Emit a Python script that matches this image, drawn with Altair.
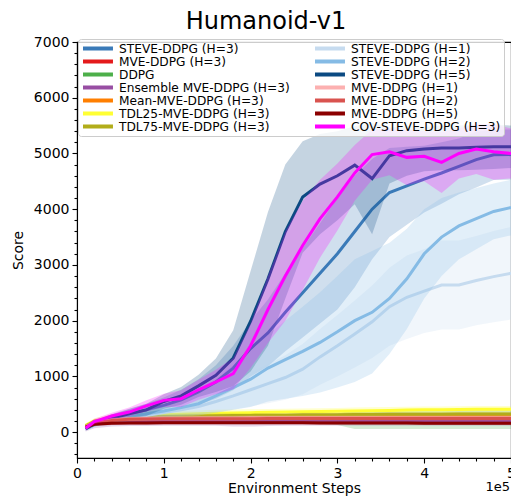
import altair as alt
import pandas as pd

# Environment steps
STEPS = [10000, 20000, 40000, 60000, 80000, 100000, 120000, 140000, 160000, 180000,
         200000, 220000, 240000, 260000, 280000, 300000, 320000, 340000, 360000, 380000,
         400000, 420000, 440000, 460000, 480000, 500000]

SERIES = [
    "STEVE-DDPG (H=3)", "MVE-DDPG (H=3)", "DDPG", "Ensemble MVE-DDPG (H=3)",
    "Mean-MVE-DDPG (H=3)", "TDL25-MVE-DDPG (H=3)", "TDL75-MVE-DDPG (H=3)",
    "STEVE-DDPG (H=1)", "STEVE-DDPG (H=2)", "STEVE-DDPG (H=5)",
    "MVE-DDPG (H=1)", "MVE-DDPG (H=2)", "MVE-DDPG (H=5)", "COV-STEVE-DDPG (H=3)",
]
COLORS = [
    "#3a7ab8", "#e41a1c", "#4daf4a", "#984ea3", "#ff7f00", "#ffff33", "#b2ad1a",
    "#c6dbef", "#85bbe5", "#0b4a82", "#fcb0b0", "#d9534f", "#8b0000", "#ff00ff",
]

steve3_mean = [60, 150, 240, 320, 400, 480, 580, 720, 900, 1150, 1500, 1780, 2150, 2500, 2850, 3200,
               3600, 4000, 4300, 4420, 4540, 4650, 4770, 4890, 4975, 4980]
steve3_std = [30, 50, 70, 90, 110, 140, 180, 230, 300, 400, 500, 600, 700, 800, 900, 1000,
              1000, 900, 800, 700, 600, 550, 500, 500, 450, 450]

mve3_mean = [80, 170, 200, 210, 215, 215, 220, 220, 220, 215, 220, 220, 220, 215, 220, 220,
             220, 220, 215, 220, 220, 220, 215, 220, 220, 220]
mve3_std = [30] + [40] * 25

ddpg_mean = [90, 170, 210, 220, 225, 225, 230, 230, 230, 230, 225, 230, 230, 230, 230, 230,
             225, 225, 225, 225, 225, 225, 225, 225, 225, 225]
ddpg_std = [40, 50, 60, 60, 60, 60, 60, 60, 60, 60, 60, 60, 60, 70, 80, 100,
            170, 170, 170, 170, 170, 170, 170, 170, 170, 170]

ens_mean = [70, 150, 180, 190, 190, 195, 195, 195, 195, 190, 190, 190, 195, 195, 195, 195,
            195, 195, 195, 195, 195, 195, 195, 195, 195, 195]
ens_std = [60, 80, 80, 80, 80, 80, 80, 80, 80, 90, 90, 80, 80, 80, 80, 80,
           80, 80, 80, 80, 80, 80, 80, 80, 80, 80]

mean_mean = [100, 180, 230, 250, 260, 265, 270, 275, 275, 280, 280, 280, 285, 285, 285, 290,
             290, 290, 290, 290, 290, 290, 290, 290, 290, 290]
mean_std = [30] + [40] * 25

tdl25_mean = [120, 200, 260, 290, 300, 310, 320, 330, 340, 345, 350, 355, 360, 365, 370, 375,
              380, 385, 390, 395, 400, 400, 405, 410, 410, 410]
tdl25_std = [40, 50, 60, 60, 60, 60, 60, 60, 60, 60, 60, 60, 60, 60, 60, 60,
             60, 60, 60, 60, 60, 60, 60, 60, 60, 60]

tdl75_mean = [110, 190, 240, 260, 270, 280, 285, 290, 295, 300, 300, 305, 305, 310, 310, 310,
              315, 315, 320, 320, 320, 320, 325, 325, 325, 325]
tdl75_std = [30] + [40] * 25

steve1_mean = [60, 130, 200, 260, 300, 350, 400, 460, 550, 650, 760, 870, 980, 1130, 1350, 1550,
               1760, 1980, 2250, 2420, 2530, 2640, 2640, 2720, 2790, 2850]
steve1_std = [30, 40, 50, 70, 90, 110, 130, 160, 200, 250, 300, 350, 400, 450, 500, 550,
              600, 650, 700, 750, 750, 800, 800, 800, 820, 830]

steve2_mean = [60, 140, 220, 280, 330, 380, 440, 510, 650, 800, 950, 1150, 1300, 1450, 1610, 1800,
               2000, 2150, 2400, 2750, 3200, 3500, 3700, 3830, 3960, 4030]
steve2_std = [30, 40, 60, 80, 100, 120, 150, 200, 300, 400, 500, 600, 700, 800, 900, 1000,
              1100, 1100, 1000, 900, 800, 700, 600, 550, 500, 500]

steve5_mean = [60, 150, 250, 330, 400, 550, 650, 830, 1020, 1330, 1990, 2750, 3600, 4220, 4450, 4600,
               4790, 4550, 4960, 5050, 5080, 5100, 5100, 5110, 5120, 5120]
steve5_std = [30, 50, 70, 90, 110, 130, 160, 200, 300, 500, 900, 1200, 1200, 1000, 900, 800,
              700, 1000, 500, 450, 400, 400, 400, 400, 400, 380]

mve1_mean = [100, 170, 220, 240, 245, 250, 250, 255, 255, 255, 260, 260, 260, 260, 260, 260,
             260, 260, 260, 260, 260, 260, 260, 260, 260, 260]
mve1_std = [30] + [40] * 25

mve2_mean = [90, 165, 210, 230, 235, 240, 240, 240, 240, 240, 240, 245, 245, 245, 245, 245,
             245, 245, 245, 245, 245, 245, 245, 245, 245, 245]
mve2_std = [30] + [40] * 25

mve5_mean = [90, 140, 160, 165, 165, 170, 170, 170, 170, 170, 170, 170, 170, 170, 165, 165,
             165, 165, 165, 165, 160, 160, 160, 160, 160, 160]
mve5_std = [30] * 26

cov_mean = [70, 190, 290, 360, 470, 570, 600, 760, 900, 1050, 1550, 2200, 2800, 3350, 3830, 4220,
            4650, 4980, 5030, 4930, 4950, 4840, 5000, 5080, 5030, 5000]
cov_std = [40, 50, 60, 80, 100, 120, 150, 180, 220, 280, 400, 600, 800, 800, 700, 600,
           500, 450, 420, 500, 450, 550, 450, 450, 500, 450]

MEANS = [steve3_mean, mve3_mean, ddpg_mean, ens_mean, mean_mean, tdl25_mean, tdl75_mean,
         steve1_mean, steve2_mean, steve5_mean, mve1_mean, mve2_mean, mve5_mean, cov_mean]
STDS = [steve3_std, mve3_std, ddpg_std, ens_std, mean_std, tdl25_std, tdl75_std,
        steve1_std, steve2_std, steve5_std, mve1_std, mve2_std, mve5_std, cov_std]

rows = []
for name, m, s in zip(SERIES, MEANS, STDS):
    for x, mv, sv in zip(STEPS, m, s):
        rows.append({"series": name, "step": x, "score": mv, "lo": mv - sv, "hi": mv + sv})
df = pd.DataFrame(rows)

W, H = 434, 416
xticks = list(range(0, 500001, 20000))
yticks = list(range(-400, 7001, 200))

xscale = alt.Scale(domain=[0, 500000], nice=False, zero=False)
yscale = alt.Scale(domain=[-464, 7000], nice=False, zero=False)

xaxis = alt.Axis(
    title="Environment Steps", values=xticks,
    labelExpr="datum.value % 100000 === 0 ? format(datum.value / 100000, 'd') : ''",
    tickSize={"condition": {"test": "datum.value % 100000 === 0", "value": 5}, "value": 3},
    labelOverlap=False, labelFlush=False, grid=False,
    titleY=30, titleBaseline="middle",
)
yaxis = alt.Axis(
    title="Score", values=yticks,
    labelExpr="datum.value % 1000 === 0 ? format(datum.value, 'd') : ''",
    tickSize={"condition": {"test": "datum.value % 1000 === 0", "value": 5}, "value": 3},
    labelOverlap=False, labelFlush=False, grid=False,
    titleX=-59, titleY=H / 2, titleBaseline="middle",
)

color = alt.Color(
    "series:N",
    scale=alt.Scale(domain=SERIES, range=COLORS),
    legend=alt.Legend(
        title=None, orient="none", legendX=1, legendY=-3, columns=2,
        symbolType="M-1,0H4.45", symbolSize=121, symbolStrokeWidth=4, symbolOpacity=1,
        labelFontSize=12.2, labelOffset=23, columnPadding=23, rowPadding=-0.8,
        clipHeight=13,
        padding=3, strokeColor="#cccccc", fillColor="rgba(255,255,255,0.8)",
        cornerRadius=3, labelColor="black", labelLimit=300,
    ),
)

layers = []
for name in SERIES:
    base = alt.Chart(df).transform_filter(alt.datum.series == name)
    band = base.mark_area(fillOpacity=0.24, clip=True).encode(
        x=alt.X("step:Q", scale=xscale, axis=xaxis),
        y=alt.Y("lo:Q", scale=yscale, axis=yaxis),
        y2="hi:Q",
        color=color,
    )
    line = base.mark_line(strokeWidth=3, clip=True).encode(
        x=alt.X("step:Q", scale=xscale, axis=xaxis),
        y=alt.Y("score:Q", scale=yscale, axis=yaxis),
        color=color,
    )
    layers += [band, line]

offset_text = alt.Chart(pd.DataFrame({"t": ["1e5"]})).mark_text(
    align="right", baseline="middle", fontSize=13, font="DejaVu Sans", color="black"
).encode(x=alt.value(W - 1), y=alt.value(445), text="t:N")

title_text = alt.Chart(pd.DataFrame({"t": ["Humanoid-v1"]})).mark_text(
    align="center", baseline="alphabetic", fontSize=24, font="DejaVu Sans", color="black"
).encode(x=alt.value(189), y=alt.value(-13.5), text="t:N")

chart = alt.layer(*layers, offset_text, title_text).properties(
    width=W, height=H,
    autosize=alt.AutoSizeParams(type="none"),
    padding={"left": 69, "top": 34, "right": 0, "bottom": 38},
).configure_view(stroke="black", strokeWidth=1.1).configure_axis(
    labelFont="DejaVu Sans", titleFont="DejaVu Sans", labelFontSize=14, titleFontSize=14,
    titleFontWeight="normal", labelColor="black", titleColor="black",
    domainColor="black", tickColor="black", domainWidth=1.1, tickWidth=1.1, labelPadding=3,
).configure_legend(labelFont="DejaVu Sans")

chart.save("out.html", embed_options={"renderer": "svg", "actions": False})
